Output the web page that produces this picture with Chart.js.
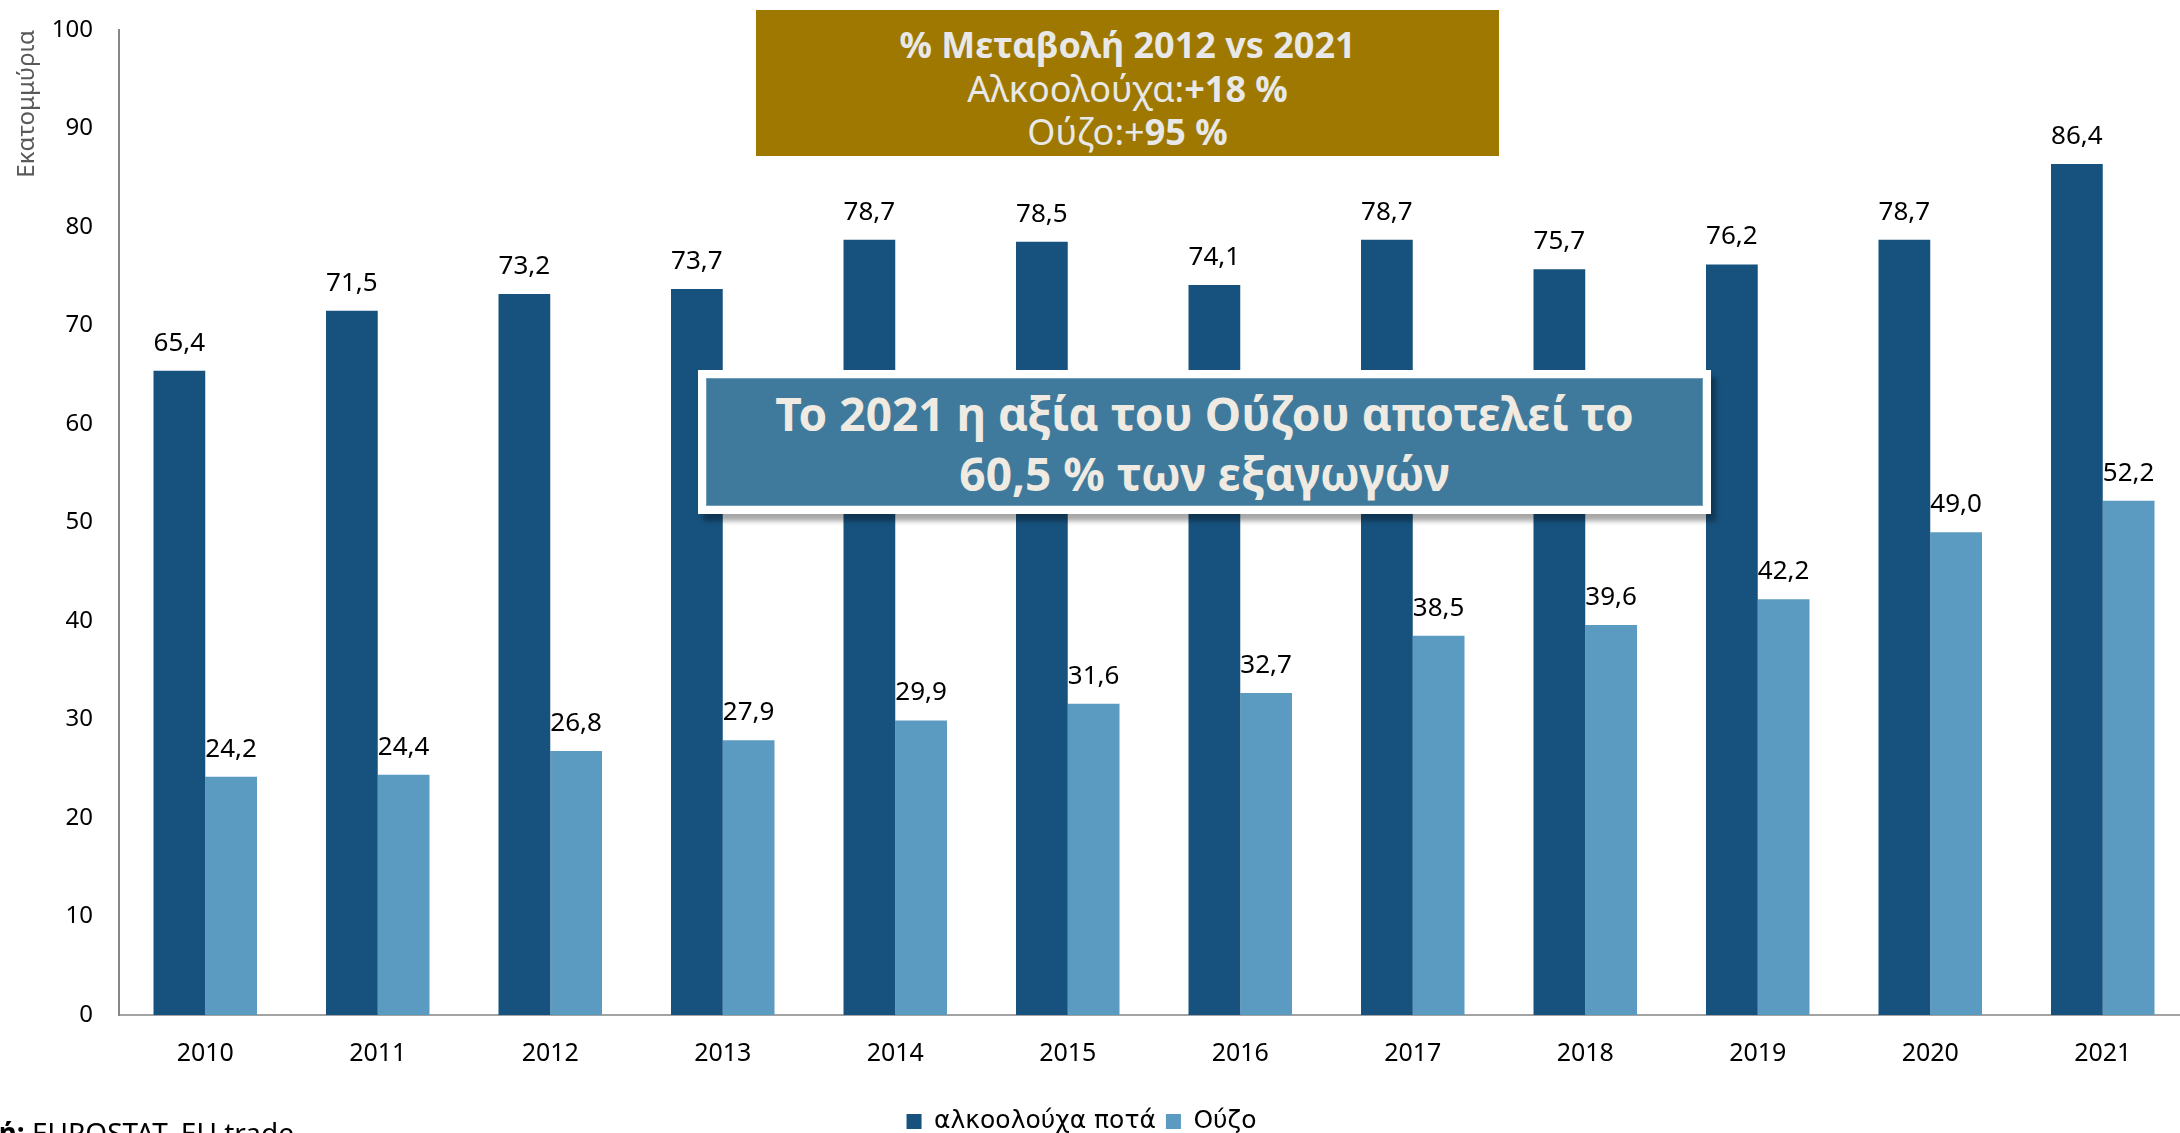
<!DOCTYPE html>
<html>
<head>
<meta charset="utf-8">
<script src="https://cdn.jsdelivr.net/npm/chart.js@4.4.0/dist/chart.umd.min.js"></script>
<style>
    html, body { margin: 0; padding: 0; background: #fff; }
    body { width: 2180px; height: 1133px; overflow: hidden; position: relative; font-family: "Noto Sans", "DejaVu Sans", sans-serif; }
    #wrap { position: absolute; left: -26px; top: 0; width: 2216px; height: 1144px; }
    .note-top { position: absolute; left: 756px; top: 10px; width: 743px; height: 146px; background: #9e7800; color: #e8e8e8;
        text-align: center; font-size: 36px; line-height: 43.5px; box-sizing: border-box; padding-top: 13px; }
    .note-top b { font-weight: 700; }
    .note-mid { position: absolute; left: 698px; top: 370px; width: 1013px; height: 144px; background: #fff; box-sizing: border-box;
        padding: 8px; box-shadow: 5px 7px 5px rgba(0,0,0,0.35); }
    .note-mid div { width: 100%; height: 100%; background: #3f7a9c; border: 1px solid #6f9dba; box-sizing: border-box; color: #efeae2;
        text-align: center; font-weight: 700; font-size: 46px; line-height: 60px; padding-top: 4px; white-space: nowrap; }
    .source { position: absolute; left: -56px; top: 1118px; font-size: 28px; line-height: 28px; color: #000; white-space: nowrap; }
</style>
</head>
<body>
<div id="wrap"><canvas id="barChart" width="2216" height="1144"></canvas></div>
<div class="note-top">
    <b>% Μεταβολή 2012 vs 2021</b><br>
    Αλκοολούχα:<b>+18 %</b><br>
    Ούζο:+<b>95 %</b>
</div>
<div class="note-mid"><div>Το 2021 η αξία του Ούζου αποτελεί το<br>60,5 % των εξαγωγών</div></div>
<div class="source"><b>Πηγή:</b> EUROSTAT, EU trade</div>

<script>
// =====================================================
// DATA
// =====================================================
const years = ['2010','2011','2012','2013','2014','2015','2016','2017','2018','2019','2020','2021'];
const alcoholValues = [65.4, 71.5, 73.2, 73.7, 78.7, 78.5, 74.1, 78.7, 75.7, 76.2, 78.7, 86.4];
const ouzoValues = [24.2, 24.4, 26.8, 27.9, 29.9, 31.6, 32.7, 38.5, 39.6, 42.2, 49.0, 52.2];
const seriesNames = ['αλκοολούχα ποτά', 'Ούζο'];
const yTicks = [0, 10, 20, 30, 40, 50, 60, 70, 80, 90, 100];

const FONT = '"Noto Sans", "DejaVu Sans", sans-serif';
const WIDE_FONT = '"DejaVu Sans", "Noto Sans", sans-serif';

// value labels above each bar (decimal comma)
const valueLabels = {
    id: 'valueLabels',
    afterDatasetsDraw(chart) {
        const ctx = chart.ctx;
        ctx.save();
        ctx.font = '26px ' + FONT;
        ctx.fillStyle = '#000';
        ctx.textAlign = 'center';
        ctx.textBaseline = 'alphabetic';
        chart.data.datasets.forEach((ds, i) => {
            chart.getDatasetMeta(i).data.forEach((bar, j) => {
                ctx.fillText(ds.data[j].toFixed(1).replace('.', ','), bar.x, bar.y - 20);
            });
        });
        ctx.restore();
    }
};

const barCanvas = document.getElementById('barChart');
window.barChart = new Chart(barCanvas, {
    type: 'bar',
    data: {
        labels: years,
        datasets: [
            { label: seriesNames[0], data: alcoholValues, backgroundColor: '#17527e', categoryPercentage: 0.6, barPercentage: 1.0 },
            { label: seriesNames[1], data: ouzoValues, backgroundColor: '#5b9bc1', categoryPercentage: 0.6, barPercentage: 1.0 }
        ]
    },
    options: {
        responsive: false,
        animation: false,
        devicePixelRatio: 1,
        layout: { padding: { top: 30, right: 1, left: 0, bottom: 0 } },
        plugins: {
            legend: {
                position: 'bottom',
                labels: { boxWidth: 15, boxHeight: 15, padding: 10, color: '#000', font: { size: 25, family: WIDE_FONT } }
            },
            tooltip: { enabled: false }
        },
        scales: {
            x: {
                grid: { display: false, drawTicks: false },
                border: { color: '#a3a3a3', width: 2 },
                ticks: { color: '#000', font: { size: 25, family: FONT }, padding: 24 },
                afterFit: s => { s.height = 84; }
            },
            y: {
                min: 0, max: 100,
                afterBuildTicks: s => { s.ticks = yTicks.map(v => ({ value: v })); },
                grid: { display: false, drawTicks: false },
                border: { color: '#878787', width: 2 },
                ticks: { color: '#000', font: { size: 24, family: FONT }, padding: 26 },
                title: { display: true, text: 'Εκατομμύρια', align: 'end', color: '#595959', font: { size: 24, family: FONT }, padding: { top: 39, bottom: 0 } },
                afterFit: s => { s.width = 145; s.paddingTop = 0; s.paddingBottom = 0; }
            }
        }
    },
    plugins: [valueLabels]
});
</script>
</body>
</html>
